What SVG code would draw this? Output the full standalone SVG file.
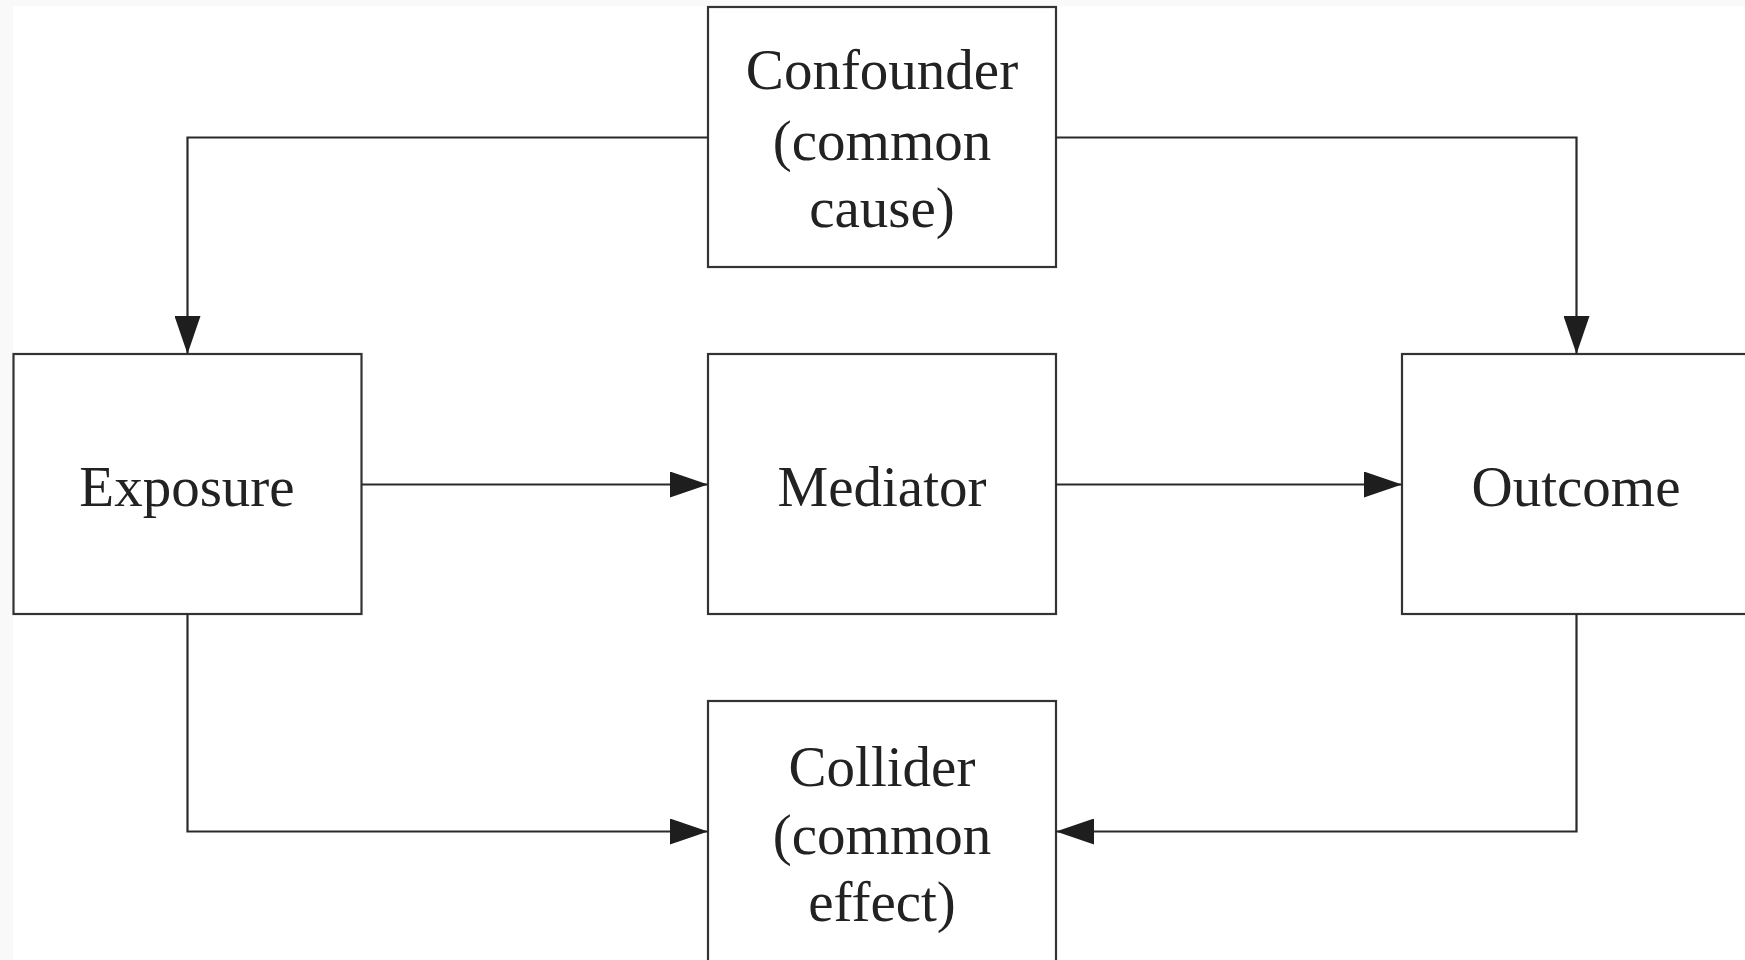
<svg xmlns="http://www.w3.org/2000/svg" width="1745" height="960" viewBox="0 0 1745 960">
  <defs>
    <style>
      .box { fill: #ffffff; stroke: #333333; stroke-width: 2.2; }
      .lbl { font-family: "Liberation Serif", "Times New Roman", serif; font-size: 57px; fill: #222222; text-anchor: middle; }
      .conn { fill: none; stroke: #2a2a2a; stroke-width: 2.2; }
    </style>
    <marker id="arrow" viewBox="0 0 38 26" refX="38" refY="13" markerWidth="38" markerHeight="26" markerUnits="userSpaceOnUse" orient="auto">
      <path d="M0,0 L38,13 L0,26 Z" fill="#1e1e1e"/>
    </marker>
  </defs>
  <rect x="0" y="0" width="1745" height="960" fill="#f9f9f9"/>
  <rect x="13" y="6" width="1732" height="954" fill="#ffffff"/>

  <g id="confounder">
    <rect class="box" x="708" y="7" width="348" height="260"/>
    <text class="lbl" x="882" y="89">Confounder</text>
    <text class="lbl" x="882" y="160">(common</text>
    <text class="lbl" x="882" y="227">cause)</text>
  </g>
  <g id="exposure">
    <rect class="box" x="13.5" y="354" width="348" height="260"/>
    <text class="lbl" x="187" y="506">Exposure</text>
  </g>
  <g id="mediator">
    <rect class="box" x="708" y="354" width="348" height="260"/>
    <text class="lbl" x="882" y="506">Mediator</text>
  </g>
  <g id="outcome">
    <rect class="box" x="1402" y="354" width="348" height="260"/>
    <text class="lbl" x="1576" y="506">Outcome</text>
  </g>
  <g id="collider">
    <rect class="box" x="708" y="701" width="348" height="262"/>
    <text class="lbl" x="882" y="786">Collider</text>
    <text class="lbl" x="882" y="854">(common</text>
    <text class="lbl" x="882" y="921">effect)</text>
  </g>

  <g id="connectors">
    <path class="conn" d="M708,137.5 H187.5 V354" marker-end="url(#arrow)"/>
    <path class="conn" d="M1056,137.5 H1576.5 V354" marker-end="url(#arrow)"/>
    <path class="conn" d="M361.5,484.5 H708" marker-end="url(#arrow)"/>
    <path class="conn" d="M1056,484.5 H1402" marker-end="url(#arrow)"/>
    <path class="conn" d="M187.5,614 V831.5 H708" marker-end="url(#arrow)"/>
    <path class="conn" d="M1576.5,614 V831.5 H1056" marker-end="url(#arrow)"/>
  </g>
</svg>
